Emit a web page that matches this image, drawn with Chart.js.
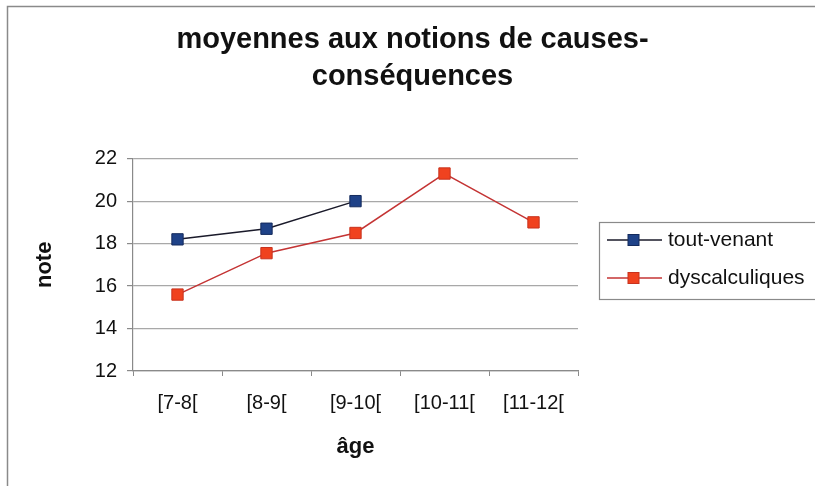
<!DOCTYPE html>
<html>
<head>
<meta charset="utf-8">
<script src="https://cdn.jsdelivr.net/npm/chart.js@4.4.1/dist/chart.umd.min.js"></script>
<style>
  html, body { margin: 0; padding: 0; background: #ffffff; }
  #wrap { position: relative; width: 815px; height: 486px; }
</style>
</head>
<body>
<div id="wrap"><canvas id="c" width="815" height="486"></canvas></div>
<script>
const titleLines = ['moyennes aux notions de causes-', 'conséquences'];
const categories = ['[7-8[', '[8-9[', '[9-10[', '[10-11[', '[11-12['];
const seriesNames = ['tout-venant', 'dyscalculiques'];
const toutVenant = [18.2, 18.7, 20.0, null, null];
const dyscalculiques = [15.6, 17.55, 18.5, 21.3, 19.0];
const yTicks = [12, 14, 16, 18, 20, 22];
const xTitle = 'âge';
const yTitle = 'note';

const FONT = "'Liberation Sans', Arial, Helvetica, sans-serif";

const frame = {
  id: 'frame',
  beforeDraw(chart) {
    const ctx = chart.ctx;
    ctx.save();
    ctx.fillStyle = '#ffffff';
    ctx.fillRect(0, 0, chart.width, chart.height);
    ctx.strokeStyle = '#8a8a8a';
    ctx.lineWidth = 1.5;
    ctx.beginPath();
    ctx.moveTo(7.5, chart.height + 2);
    ctx.lineTo(7.5, 6.5);
    ctx.lineTo(chart.width + 2, 6.5);
    ctx.stroke();
    ctx.restore();
  }
};

const boxLegend = {
  id: 'boxLegend',
  afterDraw(chart) {
    const ctx = chart.ctx;
    const bx = 599, by = 222, bw = 220, bh = 77;
    ctx.save();
    ctx.strokeStyle = '#8a8a8a';
    ctx.lineWidth = 1.2;
    ctx.strokeRect(bx + 0.5, by + 0.5, bw, bh);
    const rows = [240, 278];
    chart.data.datasets.forEach((ds, i) => {
      const y = rows[i];
      ctx.strokeStyle = ds.borderColor;
      ctx.lineWidth = ds.borderWidth;
      ctx.beginPath();
      ctx.moveTo(607, y);
      ctx.lineTo(662, y);
      ctx.stroke();
      ctx.fillStyle = ds.pointBackgroundColor;
      ctx.strokeStyle = ds.pointBorderColor;
      ctx.lineWidth = 1;
      ctx.fillRect(628, y - 5.5, 11, 11);
      ctx.strokeRect(628, y - 5.5, 11, 11);
      ctx.fillStyle = '#111111';
      ctx.font = '21px ' + FONT;
      ctx.textBaseline = 'middle';
      ctx.textAlign = 'left';
      ctx.fillText(ds.label, 668, y);
    });
    ctx.restore();
  }
};

new Chart(document.getElementById('c'), {
  type: 'line',
  data: {
    labels: categories,
    datasets: [
      {
        label: seriesNames[0],
        data: toutVenant,
        borderColor: '#1a1a2a',
        borderWidth: 1.5,
        pointStyle: 'rect',
        pointRadius: 8,
        pointHoverRadius: 8,
        pointBackgroundColor: '#1f4288',
        pointBorderColor: '#142a5c',
        pointBorderWidth: 1,
        tension: 0,
        spanGaps: false
      },
      {
        label: seriesNames[1],
        data: dyscalculiques,
        borderColor: '#c43434',
        borderWidth: 1.5,
        pointStyle: 'rect',
        pointRadius: 8,
        pointHoverRadius: 8,
        pointBackgroundColor: '#f0421f',
        pointBorderColor: '#c8321e',
        pointBorderWidth: 1,
        tension: 0
      }
    ]
  },
  options: {
    responsive: false,
    animation: false,
    events: [],
    layout: { padding: { left: 10, right: 0, top: 0, bottom: 10 } },
    plugins: {
      legend: { display: false },
      tooltip: { enabled: false },
      title: {
        display: true,
        text: titleLines,
        color: '#111111',
        font: { family: FONT, size: 29, weight: 'bold', lineHeight: 1.27 },
        padding: { top: 22, bottom: 63 }
      }
    },
    scales: {
      x: {
        offset: true,
        grid: { display: true, drawOnChartArea: false, drawTicks: true, tickLength: 5, offset: true, color: '#8a8a8a' },
        border: { display: true, color: '#8a8a8a', width: 1.2 },
        ticks: { color: '#111111', font: { family: FONT, size: 20 }, padding: 15, maxRotation: 0, autoSkip: false },
        title: { display: true, text: xTitle, color: '#111111', font: { family: FONT, size: 22, weight: 'bold' }, padding: { top: 0, bottom: 16 } },
        afterFit(scale) { scale.height = 105; }
      },
      y: {
        min: yTicks[0],
        max: yTicks[yTicks.length - 1],
        afterBuildTicks(scale) { scale.ticks = yTicks.map(v => ({ value: v })); },
        grid: { color: '#a8a8a8', lineWidth: 1.2, drawTicks: true, tickLength: 6, tickColor: '#8a8a8a' },
        border: { display: true, color: '#8a8a8a', width: 1.2 },
        ticks: { color: '#111111', font: { family: FONT, size: 20 }, padding: 10 },
        title: { display: true, text: yTitle, color: '#111111', font: { family: FONT, size: 22, weight: 'bold' }, padding: { top: 22, bottom: 0 } },
        afterFit(scale) { scale.width = 123; }
      },
      side: {
        position: 'right',
        display: true,
        grid: { display: false, drawTicks: false },
        border: { display: false },
        ticks: { display: false },
        afterFit(scale) { scale.width = 237; }
      }
    }
  },
  plugins: [frame, boxLegend]
});
</script>
</body>
</html>
